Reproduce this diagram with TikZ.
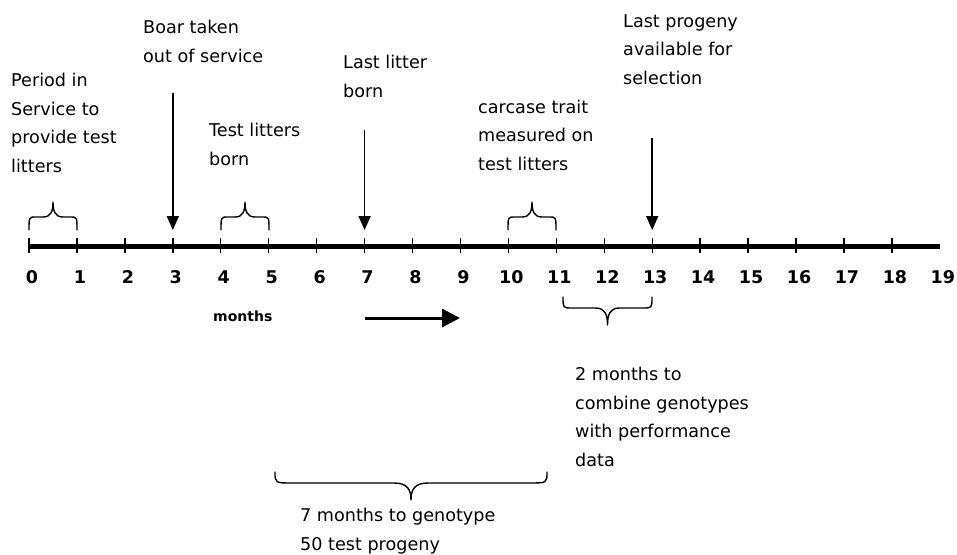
\documentclass[tikz,border=0pt]{standalone}
\usepackage{fontspec}
\setmainfont{DejaVu Sans}
\usetikzlibrary{arrows.meta}

\tikzset{
  % multi-line labels are placed by the baseline of their last line
  note/.style={anchor=base west, align=left, inner sep=0pt,
    font=\fontsize{17.6}{28.5}\selectfont},
  num/.style={inner sep=0pt, font=\bfseries\fontsize{17.5}{19}\selectfont},
  axisline/.style={line width=5pt},
  tickmark/.style={line width=1.4pt},
  pointer/.style={line width=1.8pt, -{Triangle[length=14pt,width=12pt]}},
  timearrow/.style={line width=3pt, -{Triangle[length=18pt,width=18pt]}},
  bracepen/.style={line width=1.4pt, line cap=round, line join=round},
  % curly brace: width, shoulder height, tip height, corner width, cusp width
  pics/curly/.style n args={5}{code={
    \draw[bracepen] (0,0) .. controls (0,-#2) and (0,-#2) .. (#4,-#2)
      -- ({#1/2-#5},-#2)
      .. controls ({#1/2-0.2*#5},-#2) and ({#1/2},{-#2-0.4*(#3-#2)}) .. ({#1/2},-#3)
      .. controls ({#1/2},{-#2-0.4*(#3-#2)}) and ({#1/2+0.2*#5},-#2) .. ({#1/2+#5},-#2)
      -- ({#1-#4},-#2) .. controls (#1,-#2) and (#1,-#2) .. (#1,0);
  }}
}

\begin{document}
\begin{tikzpicture}[x=1pt,y=-1pt]
\useasboundingbox (0,0) rectangle (957,554);
\def\unit{47.94}

% time axis with monthly ticks
\coordinate (astart) at (29,246);
\coordinate (aend) at (940,246);
\draw[axisline] (astart) -- (aend);
\foreach \i in {0,...,18} {
  \coordinate (t\i) at ({29+\i*\unit},246);
  \draw[tickmark] ([yshift=8pt]t\i) -- ([yshift=-7pt]t\i);
}
\foreach \i in {0,...,19} {
  \node[num] (n\i) at ({32+\i*\unit},277) {\i};
}

% event labels above the axis
\node[note] (period) at (11,172) {Period in\\Service to\\provide test\\litters};
\node[note] (boar) at (143,62) {Boar taken\\out of service};
\node[note] (testborn) at (209,165) {Test litters\\born};
\node[note] (lastlitter) at (343,97) {Last litter\\born};
\node[note] (carcase) at (478,170) {carcase trait\\measured on\\test litters};
\node[note] (lastprog) at (623,84) {Last progeny\\available for\\selection};

% event pointers
\coordinate (s3) at ({29+3*\unit},93);
\coordinate (s7) at ({29+7*\unit},130);
\coordinate (s13) at ({29+13*\unit},138);
\draw[pointer] (s3) -- ([yshift=16pt]t3);
\draw[pointer] (s7) -- ([yshift=16pt]t7);
\draw[pointer] (s13) -- ([yshift=16pt]t13);

% braces over one-month periods
\pic at (29,230) {curly={48}{13}{28}{7}{10}};
\pic at (221,230) {curly={48}{13}{28}{7}{10}};
\pic at (508,230) {curly={48}{13}{28}{7}{10}};

% direction of time
\node[inner sep=0pt, anchor=west, font=\bfseries\fontsize{14}{16}\selectfont] (months) at (213,316) {months};
\coordinate (m1) at (365,318);
\coordinate (m2) at (460,318);
\draw[timearrow] (m1) -- (m2);

% braces below the axis
\pic[yscale=-1] at (563,297) {curly={89}{11}{28}{9}{12}};
\pic[yscale=-1] at (275,472) {curly={272}{11}{28}{18}{17}};

\node[note] (combine) at (575,466) {2 months to\\combine genotypes\\with performance\\data};
\node[note] (genotype) at (300,550) {7 months to genotype\\50 test progeny};
\end{tikzpicture}
\end{document}
